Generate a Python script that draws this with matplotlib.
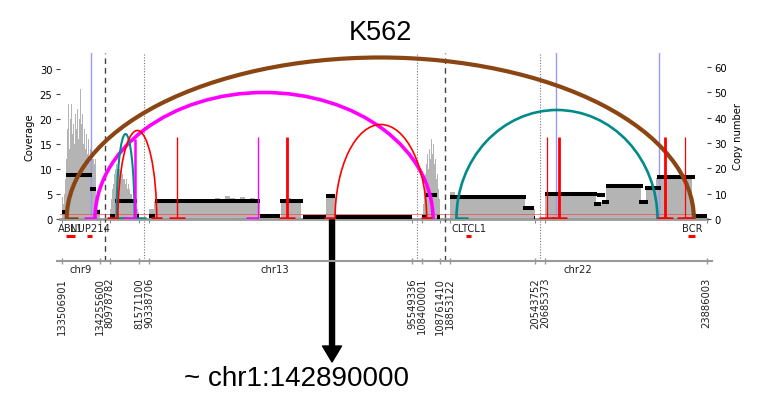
import numpy as np
import matplotlib
matplotlib.use("Agg")
import matplotlib.pyplot as plt
import matplotlib.transforms as mtransforms
from matplotlib.patches import Arc

# genomic windows drawn side by side
seg_chrom = ["chr9", "chr13", "chr13", "chr13", "chr22", "chr22"]
seg_start = [133506901, 80978782, 90338706, 108400001, 18853122, 20685373]
seg_end = [134255600, 81571100, 95549336, 108761410, 20543752, 23886003]
GAP = 192000

# read coverage, equal bins inside each window
cov_chr9 = [4.5, 3, 5, 8, 12, 18, 23, 14, 20, 23, 17, 19, 15, 21, 18, 22, 16, 20, 26, 19,
            21, 15, 18, 14, 17, 13, 16, 12, 14, 10, 12, 12, 11, 12, 3, 2, 1.5, 2]
cov_chr13_a = [2, 4, 6, 7, 8, 9, 10, 11, 10, 11, 10, 9, 10, 9, 8, 8, 7, 8, 6, 7,
               6, 5, 5, 4, 4, 3, 3, 2.5, 2, 1.5]
cov_chr13_b = [2.0, 3.6, 3.8, 3.7, 3.9, 3.6, 3.8, 4.0, 3.7, 3.9, 3.8, 4.1, 3.9, 4.3, 4.0,
               4.6, 4.2, 3.9, 4.4, 4.0, 4.2, 3.8, 0, 0, 0, 0, 3.8, 4.2, 4.0, 3.6,
               0, 0, 0, 0, 0, 4.6, 4.4, 0, 0, 0, 0, 0, 0, 0, 0, 0, 0, 0, 0, 0, 0, 0]
cov_chr13_c = [1, 3, 6, 9, 11, 13, 10, 14, 12, 16, 13, 15, 11, 12, 8, 9, 6, 4]
cov_chr22_a = [5.5, 4.3, 4.5, 4.4, 4.6, 4.3, 4.7, 4.4, 4.5, 4.8, 4.6, 4.9, 4.5, 4.7, 4.4, 2.1, 2.0]
cov_chr22_b = [5.0, 5.2, 4.9, 5.1, 5.3, 5.0, 5.2, 4.9, 5.1, 5.0, 3.0, 3.4, 6.6, 6.9, 6.7, 7.0,
               6.6, 6.8, 6.5, 3.3, 6.1, 6.1, 8.2, 8.4, 8.7, 8.5, 8.8, 8.4, 8.6, 0.6, 0.6, 0.6]
coverage = [cov_chr9, cov_chr13_a, cov_chr13_b, cov_chr13_c, cov_chr22_a, cov_chr22_b]

# copy number segments
cn_chrom = ["chr9"] * 4 + ["chr13"] * 13 + ["chr22"] * 12
cn_start = [133506901, 133586000, 134060000, 134180000,
            80978782, 81088000, 81517000,
            90338706, 90455500, 92534500, 92930500, 93386000, 93841000, 94019500,
            108400001, 108479000, 108697000,
            18853122, 20300000, 20510000,
            20685373, 21653000, 21713000, 21812000, 21891000, 22545000, 22664000, 22901000, 23653000]
cn_end = [133586000, 134101000, 134180000, 134255600,
          81088000, 81517000, 81571100,
          90455500, 92534500, 92930500, 93386000, 93841000, 94019500, 95549336,
          108479000, 108697000, 108761410,
          20358000, 20520000, 20543752,
          21713000, 21792000, 21871000, 21951000, 22624000, 22723000, 22981000, 23653000, 23910000]
cn_value = [2.7, 17.5, 12.0, 2.9,
            1.0, 7.2, 1.3,
            1.0, 7.2, 1.0, 7.2, 0.7, 9.2, 0.7,
            0.7, 9.6, 0.7,
            8.5, 4.2, 0.3,
            9.9, 6.0, 9.5, 6.6, 13.2, 6.6, 12.2, 16.7, 1.3]

# genes
gene_name = ["ABL1", "NUP214", "CLTCL1", "BCR"]
gene_chrom = ["chr9", "chr9", "chr22", "chr22"]
gene_start = [133589268, 134000948, 19166986, 23522552]
gene_end = [133763062, 134110057, 19279239, 23660224]

# rearrangements joining two breakpoints
arc_chrom1 = ["chr9", "chr9", "chr22", "chr13", "chr13", "chr13"]
arc_pos1 = [133600000, 134160000, 18981000, 81118000, 81144000, 94019500]
arc_chrom2 = ["chr22", "chr13", "chr22", "chr13", "chr13", "chr13"]
arc_pos2 = [23632600, 108618000, 22912000, 81475000, 90489000, 108493000]
arc_height = [32.3, 25.3, 21.8, 17.0, 17.7, 18.9]
arc_color = ["#8b4513", "#ff00ff", "#008b8b", "#008b8b", "#ff0000", "#ff0000"]
arc_lw = [3.0, 2.6, 1.9, 1.5, 1.2, 1.2]
arc_dir1 = [1, -1, 1, 1, -1, -1]
arc_dir2 = [-1, -1, 1, 1, 0, 0]

# breakpoints whose partner is off this view
bnd_chrom = ["chr13"] * 4 + ["chr22"] * 4
bnd_pos = [81475000, 90885000, 92485000, 93063000, 20721000, 20958000, 23065000, 23461000]
bnd_height = [16.0, 16.5, 16.5, 16.5, 16.5, 16.5, 16.5, 16.5]
bnd_color = ["#ff00ff", "#ff0000", "#ff00ff", "#ff0000", "#ff0000", "#ff0000", "#ff0000", "#ff0000"]
bnd_lw = [1.8, 1.0, 1.0, 2.0, 0.9, 2.0, 2.0, 0.9]
bnd_dir = [-1, 0, -1, 0, 0, 0, 0, 0]

# blue marks
mark_chrom = ["chr9", "chr22", "chr22"]
mark_pos = [134081000, 20901000, 22940000]

partner_chrom = "chr13"
partner_pos = 93960000
partner_label = "~ chr1:142890000"

# concatenated coordinate
offsets = []
o = 0
for s, e in zip(seg_start, seg_end):
    offsets.append(o)
    o += (e - s) + GAP
total = o - GAP


def gx(chrom, pos):
    for c, s, e, off in zip(seg_chrom, seg_start, seg_end, offsets):
        if c == chrom and s - GAP / 2 <= pos <= e + GAP / 2:
            return off + pos - s
    raise ValueError((chrom, pos))


def foot(x, d, w):
    if d > 0:
        return x, x + w
    if d < 0:
        return x - w, x
    return x - w / 2, x + w / 2


W, H = 759.0, 402.0


def px_box(l, t, r, b):
    return [l / W, 1 - b / H, (r - l) / W, (b - t) / H]


fig = plt.figure(figsize=(7.59, 4.02), dpi=100)
ax = fig.add_axes(px_box(60, 54, 707, 220))
ax2 = ax.twinx()
ax_low = fig.add_axes(px_box(57.3, 220, 711.7, 262))
ax_low.patch.set_visible(False)

bpp = total / (706.7 - 62)
ax.set_xlim((60 - 62) * bpp, (707 - 62) * bpp)
ax_low.set_xlim((57.3 - 62) * bpp, (711.7 - 62) * bpp)
ax.set_ylim(0, 33.2)
ax2.set_ylim(0, 65.6)
ax_low.set_ylim(0, 1)

# coverage
for off, s, e, vals in zip(offsets, seg_start, seg_end, coverage):
    edges = np.linspace(off, off + (e - s), len(vals) + 1)
    ax.stairs(vals, edges, fill=True, color="#b4b4b4", zorder=1)

# copy number 2 reference
ax.plot([0, 1], [2, 2], color="#ff4040", lw=0.6, alpha=0.8, zorder=2,
        transform=mtransforms.blended_transform_factory(ax.transAxes, ax2.transData))

for c, p in zip(mark_chrom, mark_pos):
    ax.axvline(gx(c, p), color="#9a9af5", lw=1, zorder=1.5)

# copy number segments
for c, s, e, v in zip(cn_chrom, cn_start, cn_end, cn_value):
    ax.hlines(v, gx(c, s), gx(c, e), color="black", lw=2.9, zorder=3,
              transform=ax2.transData)

# arcs
for i in range(len(arc_pos1)):
    x1 = gx(arc_chrom1[i], arc_pos1[i])
    x2 = gx(arc_chrom2[i], arc_pos2[i])
    arc = Arc(((x1 + x2) / 2, 0), abs(x2 - x1), 2 * arc_height[i], theta1=0, theta2=180,
              color=arc_color[i], lw=arc_lw[i], zorder=4)
    ax.add_patch(arc)
    for x, d in ((x1, arc_dir1[i]), (x2, arc_dir2[i])):
        a, b = foot(x, d, 220000)
        ax.hlines(0.25, a, b, color=arc_color[i], lw=1.8, zorder=4)

for c, p, h, col, lw, d in zip(bnd_chrom, bnd_pos, bnd_height, bnd_color, bnd_lw, bnd_dir):
    x = gx(c, p)
    ax.vlines(x, 0, h, color=col, lw=lw, zorder=4)
    a, b = foot(x, d, 320000 if d == 0 else 220000)
    ax.hlines(0.25, a, b, color=col, lw=1.8, zorder=4)

# window separators
for k in range(1, len(seg_start)):
    xs = offsets[k] - GAP / 2
    if seg_chrom[k] != seg_chrom[k - 1]:
        style = dict(color="#444444", lw=1.0, linestyle=(0, (4, 3)))
    else:
        style = dict(color="#777777", lw=0.8, linestyle=(0, (1, 1.5)))
    ax.axvline(xs, zorder=2, **style)
    ax_low.axvline(xs, **style)

bounds = []
labels = []
for off, s, e in zip(offsets, seg_start, seg_end):
    bounds += [off, off + e - s]
    labels += [str(s), str(e)]

ax.set_xticks(bounds)
ax.set_xticklabels([])
ax.tick_params(axis="x", length=3, color="#888888", direction="out")
for side in ["top", "left", "right"]:
    ax.spines[side].set_visible(False)
ax.spines["bottom"].set_color("#999999")
ax.spines["bottom"].set_linewidth(2)
for side in ax2.spines:
    ax2.spines[side].set_visible(False)

ax.set_yticks([0, 5, 10, 15, 20, 25, 30])
ax2.set_yticks([0, 10, 20, 30, 40, 50, 60])
ax.tick_params(axis="y", labelsize=7.2, length=3, width=0.8, pad=2.5, color="#444444")
ax2.tick_params(axis="y", labelsize=7.2, length=3, width=0.8, pad=2.5, color="#444444")
ax.set_ylabel("Coverage", fontsize=7.2, labelpad=4)
ax2.set_ylabel("Copy number", fontsize=7.2, labelpad=4)

# genome axis
ax_low.set_xticks(bounds)
ax_low.set_xticklabels(labels, rotation=90, fontsize=7.2, color="#222222")
ax_low.set_yticks([])
for side in ["top", "left", "right"]:
    ax_low.spines[side].set_visible(False)
ax_low.spines["bottom"].set_color("#999999")
ax_low.spines["bottom"].set_linewidth(1.5)
ax_low.tick_params(axis="x", direction="inout", length=4, width=1, color="#999999", pad=9.5)

fig_y = mtransforms.blended_transform_factory(ax_low.transData, fig.transFigure)
chrom_names = ["chr9", "chr13", "chr22"]
for name in chrom_names:
    xs = [off + (e - s) / 2 for c, off, s, e in zip(seg_chrom, offsets, seg_start, seg_end) if c == name]
    lo = min(off for c, off in zip(seg_chrom, offsets) if c == name)
    hi = max(off + e - s for c, off, s, e in zip(seg_chrom, offsets, seg_start, seg_end) if c == name)
    ax_low.text((lo + hi) / 2, 1 - 270 / H, name, transform=fig_y, ha="center", va="center",
                fontsize=7.2, color="#222222")

for n, c, s, e in zip(gene_name, gene_chrom, gene_start, gene_end):
    a, b = gx(c, s), gx(c, e)
    ax_low.plot([a, b], [1 - 236.7 / H] * 2, color="#ff0000", lw=2.2, transform=fig_y,
                solid_capstyle="butt")
    ax_low.text((a + b) / 2, 1 - 229 / H, n, transform=fig_y, ha="center", va="center",
                fontsize=7.2, color="#222222")

# translocation partner
xa = gx(partner_chrom, partner_pos)
ax.annotate("", xy=(xa, H - 363), xycoords=("data", "figure pixels"),
            xytext=(xa, H - 221), textcoords=("data", "figure pixels"),
            arrowprops=dict(arrowstyle="simple,head_length=1.15,head_width=1.37,tail_width=0.36",
                            color="black", shrinkA=0, shrinkB=0, mutation_scale=10))
fig.text(184 / W, 16 / H, partner_label, fontsize=20, family="Liberation Sans",
         ha="left", va="baseline")

fig.text(380 / W, (H - 40) / H, "K562", fontsize=19.5, family="Liberation Sans",
         ha="center", va="baseline")

fig.savefig("out.png", dpi=100)
